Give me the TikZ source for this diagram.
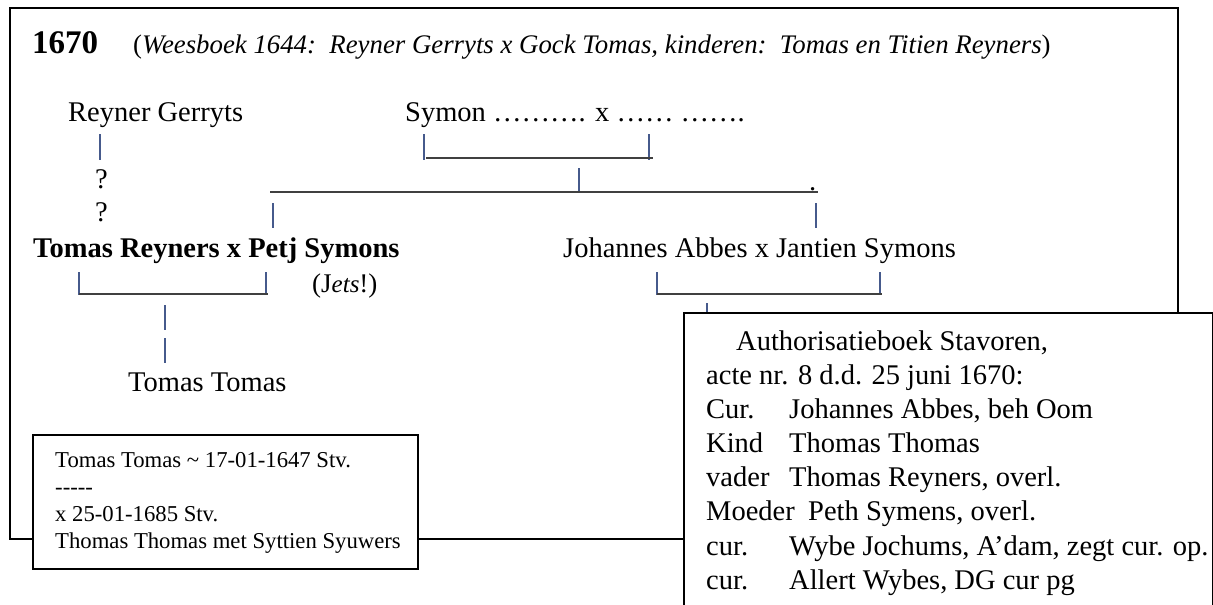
\documentclass[tikz,border=0pt]{standalone}
\usepackage{fontspec}
\setmainfont{Liberation Serif}
\definecolor{barblue}{RGB}{70,90,140}

\begin{document}
\begin{tikzpicture}
 [x=1pt,y=-1pt,
  every node/.style={inner sep=0pt,anchor=base west,font=\fontsize{28.5}{34}\selectfont},
  bar/.style={draw=barblue,line width=1.1pt},
  sib/.style={draw=black!75,line width=2pt},
  frame/.style={draw,line width=2.2pt,fill=white,anchor=north west}]
 \useasboundingbox (0,0) rectangle (1213,605);
 \draw[frame] (10,8) rectangle (1178,539);
 % heading
 \node[font=\fontsize{33}{36}\selectfont\bfseries] (year) at (32,53) {1670};
 \node[font=\fontsize{26.8}{30}\selectfont] (bron) at (133,53)
  {(\textit{Weesboek 1644:\ \ Reyner Gerryts x Gock Tomas, kinderen:\ \ Tomas en Titien Reyners})};
 % persons
 \node (reyner) at (68,121) {Reyner Gerryts};
 \node (symon) at (405,121) {Symon ………. x …… …….};
 \node (q1) at (95,188) {?};
 \node (q2) at (95,221) {?};
 \node (dot) at (809,190) {.};
 \node[font=\fontsize{28.5}{34}\selectfont\bfseries] (tomasr) at (33,257) {Tomas Reyners x Petj Symons};
 \node[font=\fontsize{27}{30}\selectfont] (jets) at (312,292) {(J{\fontsize{25}{28}\selectfont\itshape ets}!)};
 \node (johannes) at (563,257) {Johannes Abbes x Jantien Symons};
 \node (tomast) at (128,391) {Tomas Tomas};
 % connectors
 \foreach \name/\x/\y in {rg1/100/134, rg2/100/160,
   syl1/424/134, syl2/424/160, syr1/649/134, syr2/649/160,
   sym1/579/168, sym2/579/193,
   sibl1/273/203, sibl2/273/228, sibr1/816/203, sibr2/816/228,
   trl1/79/272, trl2/79/295, trr1/266/272, trr2/266/295,
   kid1/165/305, kid2/165/330, kid3/165/338, kid4/165/363,
   jal1/657/272, jal2/657/295, jar1/880/272, jar2/880/295,
   tick1/707/303, tick2/707/312,
   syh1/426/158, syh2/653/158, sibh1/270/192, sibh2/818/192,
   trh1/79/294, trh2/268/294, jah1/657/294, jah2/882/294}
  \coordinate (\name) at (\x,\y);
 \foreach \from/\to in {rg1/rg2,syl1/syl2,syr1/syr2,sym1/sym2,sibl1/sibl2,sibr1/sibr2,
   trl1/trl2,trr1/trr2,kid1/kid2,kid3/kid4,jal1/jal2,jar1/jar2,tick1/tick2}
  \draw[bar] (\from) -- (\to);
 \foreach \from/\to in {syh1/syh2,sibh1/sibh2,trh1/trh2,jah1/jah2}
  \draw[sib] (\from) -- (\to);
 % notes
 \node[frame,minimum width=385pt,minimum height=134pt] (weesbox) at (32,434) {};
 \foreach \txt [count=\i] in {Tomas Tomas \textasciitilde{} 17-01-1647 Stv.,
   -{}-{}-{}-{}-, x 25-01-1685 Stv., Thomas Thomas met Syttien Syuwers}
  \node[font=\fontsize{22.7}{27}\selectfont] (wees\i) at (55,440+27*\i) {\txt};
 \node[frame,minimum width=529pt,minimum height=330pt] (authbox) at (683,312) {};
 \node (auth0) at (736,350) {Authorisatieboek Stavoren,};
 \node (acte) at (706,384) {acte nr. 8 d.d. 25 juni 1670:};
 \foreach \lab/\tx/\txt [count=\i] in {Cur./789/{Johannes Abbes, beh Oom},
   Kind/789/Thomas Thomas, vader/789/{Thomas Reyners, overl.},
   Moeder/808/{Peth Symens, overl.}, cur./789/{Wybe Jochums, A'dam, zegt cur. op.},
   cur./789/{Allert Wybes, DG cur pg}}
  {\node (lab\i) at (706,384+34.2*\i) {\lab};
   \node (auth\i) at (\tx,384+34.2*\i) {\txt};}
\end{tikzpicture}
\end{document}
